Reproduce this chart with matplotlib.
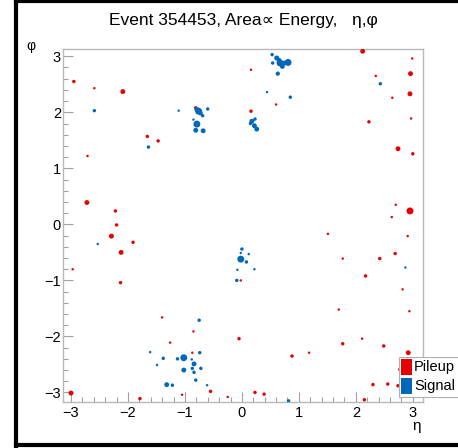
import matplotlib
matplotlib.use("Agg")
import matplotlib.pyplot as plt
from matplotlib.lines import Line2D
from matplotlib.patches import Rectangle
import numpy as np

plt.rcParams['font.family'] = ['Liberation Sans', 'DejaVu Sans']

# ---- data ----
pileup_eta = [-2.95, -2.59, -2.09, -0.81, -1.66, -1.47, -2.71, -2.72, -2.22, -2.20,
              -2.29, -1.91, -2.12, -2.97, -2.13, -1.40, -0.85, -1.26, -0.87, -3.00,
              -1.79, -1.05, -0.55, -0.25, 0.23, 0.39, 2.15, 2.30, 2.56, 2.74,
              0.16, 0.60, 0.16, 2.12, 2.99, 2.35, 2.96, 2.64, 2.95, 2.97,
              2.23, 2.74, 3.00, 2.70, 2.95, 2.63, 2.91, 1.51, 2.69, 2.42,
              1.77, -0.02, 2.17, 2.82, 1.70, 2.94, -0.05, 2.11, 1.77, 2.49,
              2.92, 0.88, 1.18, 2.76]
pileup_phi = [2.55, 2.43, 2.37, 2.08, 1.57, 1.49, 1.22, 0.39, 0.24, -0.01,
              -0.21, -0.32, -0.50, -0.80, -1.04, -1.66, -1.91, -2.11, -2.29, -3.01,
              -3.11, -3.04, -2.98, -3.08, -3.00, -3.03, -3.13, -2.86, -2.85, -2.88,
              2.76, 2.14, 2.02, 3.09, 2.96, 2.65, 2.69, 2.26, 2.33, 1.89,
              1.83, 1.35, 1.26, 0.35, 0.24, 0.13, -0.21, -0.17, -0.52, -0.61,
              -0.61, -1.00, -0.92, -1.16, -1.52, -1.55, -2.04, -2.04, -2.13, -2.17,
              -2.29, -2.35, -2.29, -2.59]
pileup_energy = [2, 1, 4, 2, 2, 2, 1, 4, 2, 2,
                 4, 2, 4, 1, 2, 1, 1, 1, 1, 4,
                 2, 1, 2, 1, 2, 2, 2, 2, 2, 2,
                 1, 1, 2, 4, 1, 1, 4, 1, 4, 1,
                 2, 4, 2, 1, 8, 1, 1, 1, 2, 2,
                 1, 1, 2, 1, 1, 1, 2, 1, 2, 2,
                 4, 2, 1, 1]

signal_eta = [-2.59, -1.11, -1.64, -0.76, -0.79, -0.73, -0.69, -0.60, -0.85, -0.79,
              -0.81, -0.68, 0.53, 0.61, 0.67, 0.71, 0.75, 0.81, 0.63, 0.54,
              0.65, 0.44, 0.85, 0.175, 0.22, 0.26, 0.23, 0.15, 2.43, -2.53,
              -0.02, 0.00, 0.08, -0.02, 0.12, -0.08, 0.22, -0.09, 2.87, -0.75,
              -1.61, -0.74, -1.49, -1.38, -1.13, -1.02, -0.88, -0.84, -0.87, -0.72,
              -1.02, -0.84, -0.81, -1.32, -1.22, -0.61, 0.82]
signal_phi = [2.03, 2.03, 1.38, 2.02, 2.05, 1.99, 1.94, 2.06, 1.87, 1.79,
              1.68, 1.67, 3.03, 2.97, 2.88, 2.82, 2.88, 2.89, 2.69, 2.88,
              2.93, 2.36, 2.27, 1.84, 1.76, 1.70, 1.88, 1.80, 2.51, -0.35,
              -0.62, -0.44, -0.67, -0.51, -0.53, -0.81, -0.80, -1.00, -0.77, -1.71,
              -2.28, -2.29, -2.51, -2.39, -2.40, -2.38, -2.41, -2.49, -2.57, -2.57,
              -2.60, -2.64, -2.78, -2.86, -2.87, -2.87, -3.15]
signal_energy = [2, 1, 2, 8, 4, 4, 2, 2, 1, 8,
                 4, 4, 2, 4, 8, 4, 4, 8, 3, 2,
                 4, 1, 2, 4, 4, 4, 2, 2, 2, 1,
                 8, 2, 2, 1, 1, 1, 1, 2, 1, 2,
                 1, 2, 1, 2, 2, 8, 1, 4, 2, 2,
                 4, 2, 2, 4, 2, 1, 2]

legend_labels = ["Pileup", "Signal"]
title_text = "Event 354453, Area\u221d Energy,   \u03b7,\u03c6"

RED = '#e60000'
BLUE = '#0068b8'
AREA_SCALE = 3.1

W, H = 458, 448
fig = plt.figure(figsize=(W / 100, H / 100), dpi=100)
ax = fig.add_axes([63 / W, 1 - 402 / H, (422.5 - 63) / W, (402 - 49) / H])

ax.scatter(pileup_eta, pileup_phi, s=np.array(pileup_energy) * AREA_SCALE,
           color=RED, linewidths=0, zorder=3)
ax.scatter(signal_eta, signal_phi, s=np.array(signal_energy) * AREA_SCALE,
           color=BLUE, linewidths=0, zorder=3)

ax.set_xlim(-3.14, 3.17)
ax.set_ylim(-3.17, 3.13)
ax.set_xticks([-3, -2, -1, 0, 1, 2, 3])
ax.set_yticks([-3, -2, -1, 0, 1, 2, 3])
ax.set_xticklabels(['\u22123', '\u22122', '\u22121', '0', '1', '2', '3'])
ax.set_yticklabels(['\u22123', '\u22122', '\u22121', '0', '1', '2', '3'])
ax.set_xticks(np.arange(-3.0, 3.01, 0.2), minor=True)
ax.set_yticks(np.arange(-3.0, 3.01, 0.2), minor=True)
ax.tick_params(which='both', direction='in', color='#a0a0a0', labelsize=10.5,
               top=False, right=False)
ax.tick_params(which='major', length=7, width=0.8, pad=3)
ax.tick_params(axis='y', which='major', pad=1.5)
ax.tick_params(which='minor', length=3.5, width=0.8)
for sp in ax.spines.values():
    sp.set_color('#b8b8b8')
    sp.set_linewidth(1.0)

fig.text(243 / W, 1 - 20 / H, title_text, ha='center', va='center', fontsize=12.5)
fig.text(31 / W, 1 - 46 / H, '\u03c6', ha='center', va='center', fontsize=10)
fig.text(417 / W, 1 - 426 / H, '\u03b7', ha='center', va='center', fontsize=11)

# legend box
fig.patches.append(Rectangle((399 / W, 1 - 397 / H), 70 / W, 40 / H,
                             transform=fig.transFigure, facecolor='white',
                             edgecolor='#b0b0b0', linewidth=0.8, zorder=5))
for i, (lab, col) in enumerate(zip(legend_labels, [RED, BLUE])):
    yc = 367 + i * 19
    fig.patches.append(Rectangle((401 / W, 1 - (yc + 8) / H), 11 / W, 16 / H,
                                 transform=fig.transFigure, facecolor=col,
                                 edgecolor='none', zorder=6))
    fig.text(414 / W, 1 - yc / H, lab, ha='left', va='center', fontsize=10.5, zorder=7)

# window border (black)
lw = 3.0
fig.lines.append(Line2D([16 / W, 16 / W], [0, 1], transform=fig.transFigure,
                        color='black', linewidth=lw))
fig.lines.append(Line2D([16 / W, 1], [1 - 1.5 / H, 1 - 1.5 / H], transform=fig.transFigure,
                        color='black', linewidth=lw))
fig.lines.append(Line2D([16 / W, 1], [1 - 445 / H, 1 - 445 / H], transform=fig.transFigure,
                        color='black', linewidth=lw))

fig.savefig('out.png', dpi=100)
